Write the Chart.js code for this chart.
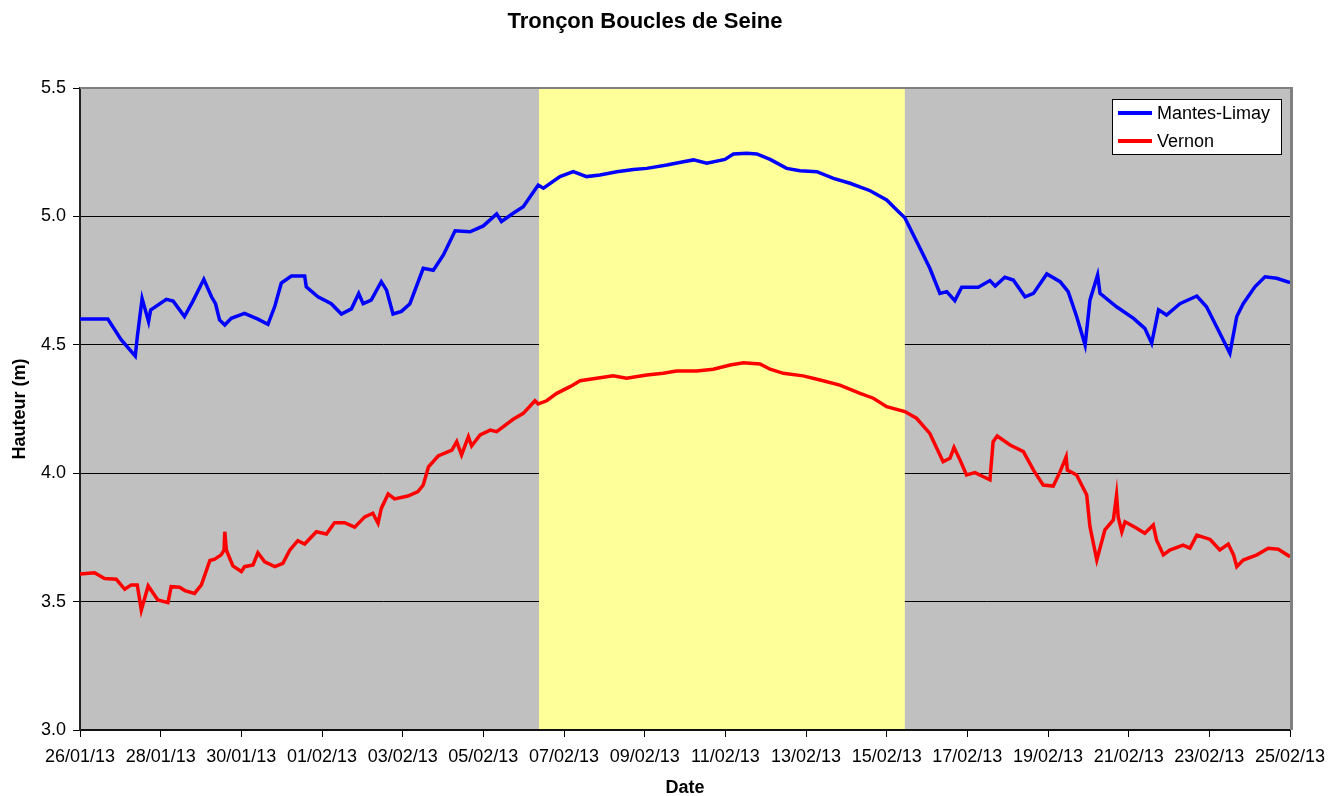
<!DOCTYPE html>
<html>
<head>
<meta charset="utf-8">
<title>Tronçon Boucles de Seine</title>
<script src="https://cdn.jsdelivr.net/npm/chart.js@4/dist/chart.umd.min.js"></script>
<style>
    html, body { margin: 0; padding: 0; background: #ffffff; }
    #wrap { width: 1330px; height: 796px; }
</style>
</head>
<body>
<div id="wrap"><canvas id="levelChart"></canvas></div>
<script>
// days counted from 26/01/13 00:00
var xTickLabels = ['26/01/13', '28/01/13', '30/01/13', '01/02/13', '03/02/13', '05/02/13', '07/02/13', '09/02/13',
    '11/02/13', '13/02/13', '15/02/13', '17/02/13', '19/02/13', '21/02/13', '23/02/13', '25/02/13'];

var bandStart = 11.38;
var bandEnd = 20.45;

var mantesDays = [0, 0.35, 0.69, 1.02, 1.37, 1.42, 1.54, 1.70, 1.75, 2.14, 2.31, 2.59, 2.80, 3.07, 3.26, 3.36, 3.46, 3.59, 3.75,
    4.08, 4.41, 4.66, 4.83, 4.99, 5.24, 5.57, 5.61, 5.90, 6.23, 6.48, 6.73, 6.91, 7.02, 7.22, 7.47, 7.60, 7.76, 7.97,
    8.18, 8.51, 8.76, 9.01, 9.30, 9.67, 10.0, 10.33, 10.45, 10.74, 10.99, 11.36, 11.49, 11.90, 12.23, 12.56, 12.89,
    13.31, 13.72, 14.05, 14.55, 14.96, 15.21, 15.54, 15.99, 16.20, 16.53, 16.78, 17.11, 17.52, 17.85, 18.27, 18.68,
    19.09, 19.59, 20.0, 20.25, 20.45, 20.83, 21.07, 21.32, 21.49, 21.69, 21.86, 22.27, 22.56, 22.69, 22.93, 23.14,
    23.43, 23.64, 23.97, 24.30, 24.50, 24.71, 24.92, 25.04, 25.23, 25.29, 25.70, 26.12, 26.40, 26.57, 26.74, 26.94,
    27.27, 27.69, 27.93, 28.18, 28.51, 28.68, 28.84, 29.13, 29.38, 29.67, 30.0];
var mantesLevels = [4.60, 4.60, 4.60, 4.52, 4.456, 4.53, 4.68, 4.59, 4.635, 4.677, 4.67, 4.61, 4.67, 4.755, 4.687, 4.66, 4.597, 4.577, 4.603,
    4.622, 4.60, 4.58, 4.65, 4.74, 4.768, 4.768, 4.726, 4.687, 4.66, 4.62, 4.64, 4.70, 4.66, 4.674, 4.746, 4.713, 4.62, 4.63,
    4.66, 4.798, 4.79, 4.85, 4.944, 4.94, 4.963, 5.01, 4.98, 5.012, 5.038, 5.122, 5.11, 5.155, 5.174, 5.155, 5.161,
    5.174, 5.183, 5.187, 5.20, 5.213, 5.22, 5.207, 5.222, 5.243, 5.246, 5.243, 5.222, 5.187, 5.178, 5.174, 5.148,
    5.129, 5.10, 5.064, 5.025, 4.995, 4.875, 4.798, 4.70, 4.707, 4.672, 4.724, 4.724, 4.75, 4.729, 4.763, 4.752,
    4.687, 4.70, 4.776, 4.746, 4.707, 4.61, 4.499, 4.674, 4.772, 4.70, 4.648, 4.603, 4.564, 4.506, 4.636, 4.616,
    4.66, 4.69, 4.648, 4.57, 4.467, 4.61, 4.66, 4.726, 4.765, 4.759, 4.742];

var vernonDays = [0, 0.36, 0.61, 0.90, 1.11, 1.27, 1.42, 1.52, 1.69, 1.93, 2.18, 2.26, 2.47, 2.60, 2.84, 3.01, 3.22, 3.34, 3.50,
    3.57, 3.59, 3.63, 3.79, 4.00, 4.08, 4.29, 4.41, 4.58, 4.83, 5.03, 5.20, 5.40, 5.57, 5.86, 6.11, 6.31, 6.56, 6.81,
    7.06, 7.26, 7.39, 7.47, 7.64, 7.80, 8.13, 8.38, 8.51, 8.64, 8.88, 9.22, 9.34, 9.46, 9.63, 9.71, 9.92, 10.17, 10.33,
    10.74, 10.99, 11.28, 11.36, 11.57, 11.82, 12.15, 12.40, 12.81, 13.22, 13.55, 14.05, 14.46, 14.79, 15.29, 15.70,
    16.12, 16.45, 16.86, 17.11, 17.44, 17.93, 18.35, 18.84, 19.34, 19.67, 20.0, 20.45, 20.74, 21.07, 21.40, 21.57,
    21.67, 21.82, 21.98, 22.19, 22.40, 22.56, 22.64, 22.74, 23.06, 23.39, 23.64, 23.88, 24.13, 24.30, 24.45, 24.48,
    24.71, 24.96, 25.04, 25.21, 25.41, 25.62, 25.70, 25.74, 25.83, 25.91, 26.20, 26.40, 26.61, 26.69, 26.86, 27.02,
    27.35, 27.52, 27.69, 28.02, 28.26, 28.47, 28.60, 28.68, 28.84, 29.18, 29.46, 29.71, 30.0];
var vernonLevels = [3.607, 3.612, 3.59, 3.587, 3.548, 3.565, 3.565, 3.467, 3.561, 3.506, 3.496, 3.558, 3.556, 3.543, 3.532, 3.565, 3.66, 3.665, 3.682,
    3.70, 3.772, 3.70, 3.639, 3.617, 3.636, 3.643, 3.69, 3.655, 3.636, 3.649, 3.70, 3.737, 3.724, 3.772, 3.763, 3.807, 3.807, 3.79,
    3.83, 3.844, 3.805, 3.863, 3.919, 3.90, 3.911, 3.928, 3.954, 4.025, 4.067, 4.09, 4.123, 4.071, 4.142, 4.106, 4.149, 4.168, 4.162,
    4.21, 4.233, 4.282, 4.27, 4.282, 4.311, 4.337, 4.36, 4.37, 4.379, 4.37, 4.382, 4.389, 4.398, 4.398, 4.405,
    4.421, 4.43, 4.425, 4.405, 4.389, 4.379, 4.363, 4.343, 4.311, 4.292, 4.259, 4.240, 4.214, 4.155, 4.045, 4.058,
    4.10, 4.051, 3.993, 4.002, 3.986, 3.974, 4.123, 4.145, 4.11, 4.084, 4.012, 3.954, 3.95, 4.006, 4.064, 4.012,
    3.993, 3.915, 3.792, 3.662, 3.779, 3.818, 3.915, 3.83, 3.772, 3.811, 3.786, 3.766, 3.798, 3.74, 3.682, 3.701,
    3.72, 3.708, 3.759, 3.742, 3.701, 3.724, 3.682, 3.636, 3.662, 3.682, 3.708, 3.704, 3.675];

function toPoints(days, levels) {
    return days.map(function(d, i) { return { x: d, y: levels[i] }; });
}

// gray plot area, then yellow band over the grid, borders and legend on top
var plotDecor = {
    id: 'plotDecor',
    beforeDraw: function(chart) {
        var a = chart.chartArea;
        var ctx = chart.ctx;
        ctx.save();
        ctx.fillStyle = '#c0c0c0';
        ctx.fillRect(a.left, a.top, a.right - a.left, a.bottom - a.top);
        ctx.restore();
    },
    beforeDatasetsDraw: function(chart) {
        var a = chart.chartArea;
        var ctx = chart.ctx;
        var x = chart.scales.x;
        var x1 = x.getPixelForValue(bandStart);
        var x2 = x.getPixelForValue(bandEnd);
        ctx.save();
        ctx.fillStyle = '#ffff99';
        ctx.fillRect(x1, a.top, x2 - x1, a.bottom - a.top - 1);
        ctx.restore();
    },
    afterDraw: function(chart) {
        var a = chart.chartArea;
        var ctx = chart.ctx;
        ctx.save();
        ctx.strokeStyle = '#808080';
        ctx.lineWidth = 2;
        ctx.beginPath();
        ctx.moveTo(a.left, a.top);
        ctx.lineTo(a.right + 1, a.top);
        ctx.stroke();
        ctx.lineWidth = 3;
        ctx.beginPath();
        ctx.moveTo(a.right + 1.5, a.top - 1);
        ctx.lineTo(a.right + 1.5, a.bottom);
        ctx.stroke();

        // legend box
        var bx = a.right - 178;
        var by = a.top + 11;
        ctx.fillStyle = '#ffffff';
        ctx.fillRect(bx, by, 169, 55);
        ctx.strokeStyle = '#000000';
        ctx.lineWidth = 1;
        ctx.strokeRect(bx + 0.5, by + 0.5, 169, 55);
        var items = chart.data.datasets;
        ctx.font = '18px "Liberation Sans", Arial, sans-serif';
        ctx.textBaseline = 'middle';
        ctx.textAlign = 'left';
        for (var i = 0; i < items.length; i++) {
            var ly = by + 14 + i * 28;
            ctx.strokeStyle = items[i].borderColor;
            ctx.lineWidth = 4;
            ctx.beginPath();
            ctx.moveTo(bx + 6, ly);
            ctx.lineTo(bx + 40, ly);
            ctx.stroke();
            ctx.fillStyle = '#000000';
            ctx.fillText(items[i].label, bx + 45, ly + 1);
        }
        ctx.restore();
    }
};

var ctx = document.getElementById('levelChart').getContext('2d');
var levelChart = new Chart(ctx, {
    type: 'line',
    data: {
        datasets: [
            {
                label: 'Mantes-Limay',
                data: toPoints(mantesDays, mantesLevels),
                borderColor: '#0000ff',
                backgroundColor: '#0000ff',
                borderWidth: 3.5,
                pointRadius: 0,
                tension: 0
            },
            {
                label: 'Vernon',
                data: toPoints(vernonDays, vernonLevels),
                borderColor: '#ff0000',
                backgroundColor: '#ff0000',
                borderWidth: 3.5,
                pointRadius: 0,
                tension: 0
            }
        ]
    },
    options: {
        responsive: true,
        maintainAspectRatio: false,
        animation: false,
        layout: { padding: { left: 0, right: 40, top: 0, bottom: 0 } },
        plugins: {
            legend: { display: false },
            tooltip: { enabled: false },
            title: {
                display: true,
                text: 'Tronçon Boucles de Seine',
                color: '#000000',
                font: { family: '"Liberation Sans", Arial, sans-serif', size: 22, weight: 'bold', lineHeight: 1.2 },
                padding: { top: 9, bottom: 52.6 }
            }
        },
        scales: {
            x: {
                type: 'linear',
                min: 0,
                max: 30,
                afterFit: function(scale) {
                    scale.height = 66;
                    scale.paddingLeft = 0;
                    scale.paddingRight = 0;
                },
                ticks: {
                    stepSize: 2,
                    autoSkip: false,
                    maxRotation: 0,
                    padding: 9,
                    color: '#000000',
                    font: { family: '"Liberation Sans", Arial, sans-serif', size: 18 },
                    callback: function(value) { return xTickLabels[Math.round(value / 2)]; }
                },
                grid: { drawOnChartArea: false, drawTicks: true, tickLength: 7, tickColor: '#000000', lineWidth: 1 },
                border: { display: true, color: '#111111', width: 2 },
                title: {
                    display: true,
                    text: 'Date',
                    color: '#000000',
                    font: { family: '"Liberation Sans", Arial, sans-serif', size: 18, weight: 'bold', lineHeight: 1 },
                    padding: { top: 0, bottom: -1 }
                }
            },
            y: {
                min: 3,
                max: 5.5,
                afterFit: function(scale) { scale.width = 80; },
                ticks: {
                    stepSize: 0.5,
                    padding: 7,
                    color: '#000000',
                    font: { family: '"Liberation Sans", Arial, sans-serif', size: 18 },
                    callback: function(value) { return value.toFixed(1); }
                },
                grid: {
                    drawTicks: true,
                    tickLength: 7,
                    tickColor: '#000000',
                    lineWidth: 1,
                    color: function(c) {
                        if (c.tick && c.tick.value === 5.5) return 'rgba(0,0,0,0)';
                        return '#000000';
                    }
                },
                border: { display: true, color: '#222222', width: 2 },
                title: {
                    display: true,
                    text: 'Hauteur (m)',
                    color: '#000000',
                    font: { family: '"Liberation Sans", Arial, sans-serif', size: 18, weight: 'bold', lineHeight: 1.2 },
                    padding: { top: 9, bottom: 0 }
                }
            }
        }
    },
    plugins: [plotDecor]
});
</script>
</body>
</html>
